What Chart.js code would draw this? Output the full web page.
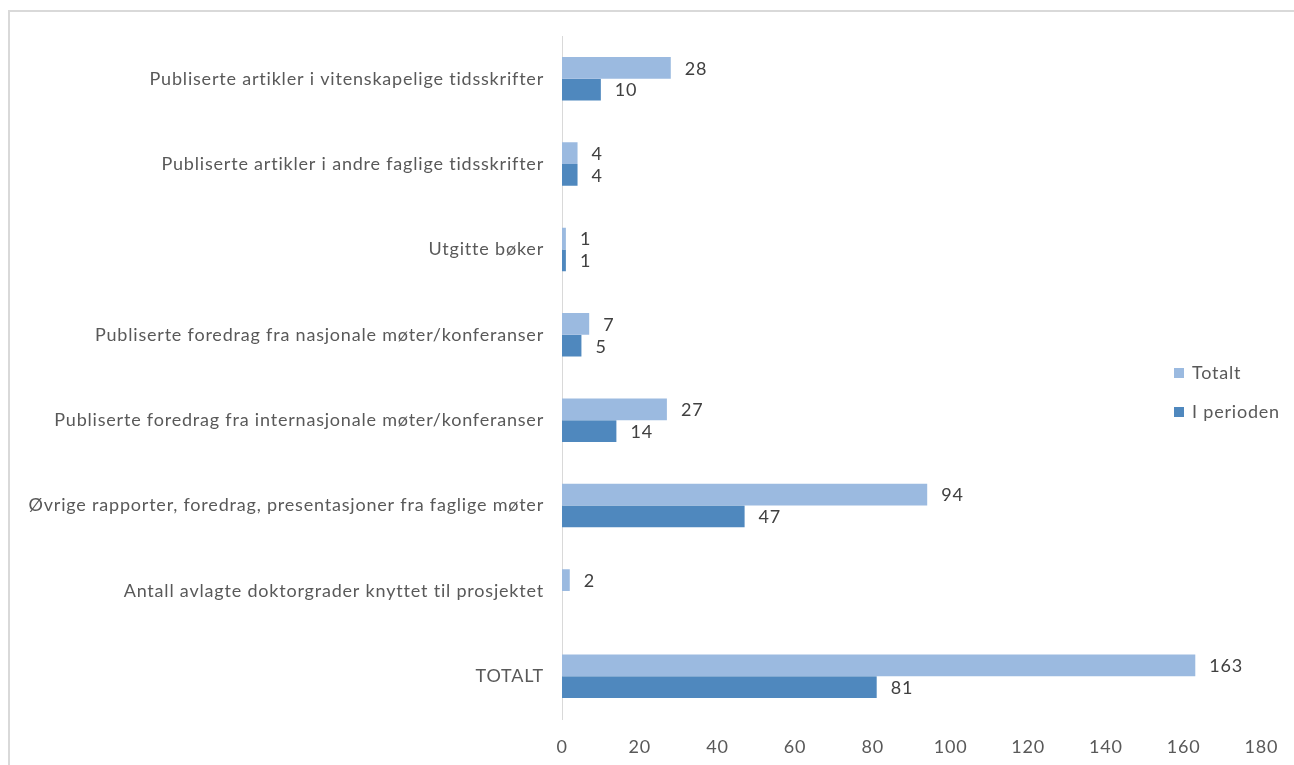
<!DOCTYPE html>
<html>
<head>
<meta charset="utf-8">
<script src="https://cdn.jsdelivr.net/npm/chart.js@4/dist/chart.umd.min.js"></script>
<style>
  html, body { margin: 0; padding: 0; background: #fff; overflow: hidden; }
  #frame { position: absolute; left: 8px; top: 10px; width: 1300px; height: 800px;
           border-left: 2px solid #d9d9d9; border-top: 2px solid #d9d9d9; }
  #wrap { position: absolute; left: 0; top: 0; width: 1294px; height: 765px; }
</style>
</head>
<body>
<div id="frame"></div>
<div id="wrap"><canvas id="chart"></canvas></div>
<script>
// Categories and values
const categories = [
  'Publiserte artikler i vitenskapelige tidsskrifter',
  'Publiserte artikler i andre faglige tidsskrifter',
  'Utgitte bøker',
  'Publiserte foredrag fra nasjonale møter/konferanser',
  'Publiserte foredrag fra internasjonale møter/konferanser',
  'Øvrige rapporter, foredrag, presentasjoner fra faglige møter',
  'Antall avlagte doktorgrader knyttet til prosjektet',
  'TOTALT',
];
const totalt = [28, 4, 1, 7, 27, 94, 2, 163];
const iPerioden = [10, 4, 1, 5, 14, 47, null, 81];
const xTicks = [0, 20, 40, 60, 80, 100, 120, 140, 160, 180];

const FONT = 'Lato, "Open Sans", sans-serif';
const LABEL_GRAY = '#595959';

// the original text is set a bit looser than Lato, widen it slightly
const spacing = {
  id: 'spacing',
  beforeDraw(chart) {
    chart.ctx.letterSpacing = '0.8px';
  },
};

// value labels at the end of each bar
const valueLabels = {
  id: 'valueLabels',
  afterDatasetsDraw(chart) {
    const ctx = chart.ctx;
    ctx.save();
    ctx.font = '18px ' + FONT;
    ctx.fillStyle = '#404040';
    ctx.textAlign = 'left';
    ctx.textBaseline = 'middle';
    chart.data.datasets.forEach((ds, di) => {
      const meta = chart.getDatasetMeta(di);
      meta.data.forEach((bar, i) => {
        const v = ds.data[i];
        if (v === null || v === undefined) return;
        ctx.fillText(String(v), bar.x + 14, bar.y + 1);
      });
    });
    ctx.restore();
  },
};

// legend drawn to the right, over the plot area like the original
const sideLegend = {
  id: 'sideLegend',
  afterDraw(chart) {
    const ctx = chart.ctx;
    ctx.save();
    ctx.font = '18px ' + FONT;
    ctx.textAlign = 'left';
    ctx.textBaseline = 'middle';
    chart.data.datasets.forEach((ds, di) => {
      const y = 373 + di * 39;
      ctx.fillStyle = ds.backgroundColor;
      ctx.fillRect(1174, y - 5, 10, 10);
      ctx.fillStyle = LABEL_GRAY;
      ctx.fillText(ds.label, 1192, y);
    });
    ctx.restore();
  },
};

const chart = new Chart(document.getElementById('chart'), {
  type: 'bar',
  data: {
    labels: categories,
    datasets: [
      { label: 'Totalt', data: totalt, backgroundColor: '#9bbae0',
        categoryPercentage: 0.51, barPercentage: 1.0 },
      { label: 'I perioden', data: iPerioden, backgroundColor: '#4f88be',
        categoryPercentage: 0.51, barPercentage: 1.0 },
    ],
  },
  options: {
    indexAxis: 'y',
    responsive: true,
    maintainAspectRatio: false,
    animation: false,
    layout: { padding: { left: 0, top: 36, right: 32, bottom: 0 } },
    scales: {
      x: {
        min: 0,
        max: 180,
        afterBuildTicks: (scale) => { scale.ticks = xTicks.map(v => ({ value: v })); },
        afterFit: (scale) => { scale.height = 46; },
        border: { display: false },
        grid: { display: false, drawTicks: false },
        ticks: { color: LABEL_GRAY, font: { family: FONT, size: 18 }, padding: 17 },
      },
      y: {
        afterFit: (scale) => { scale.width = 562; },
        border: { display: true, color: '#d9d9d9', width: 1 },
        grid: { display: false, drawTicks: false },
        ticks: { color: LABEL_GRAY, font: { family: FONT, size: 18 }, padding: 18 },
      },
    },
    plugins: {
      legend: { display: false },
      tooltip: { enabled: false },
    },
  },
  plugins: [spacing, valueLabels, sideLegend],
});
</script>
</body>
</html>
